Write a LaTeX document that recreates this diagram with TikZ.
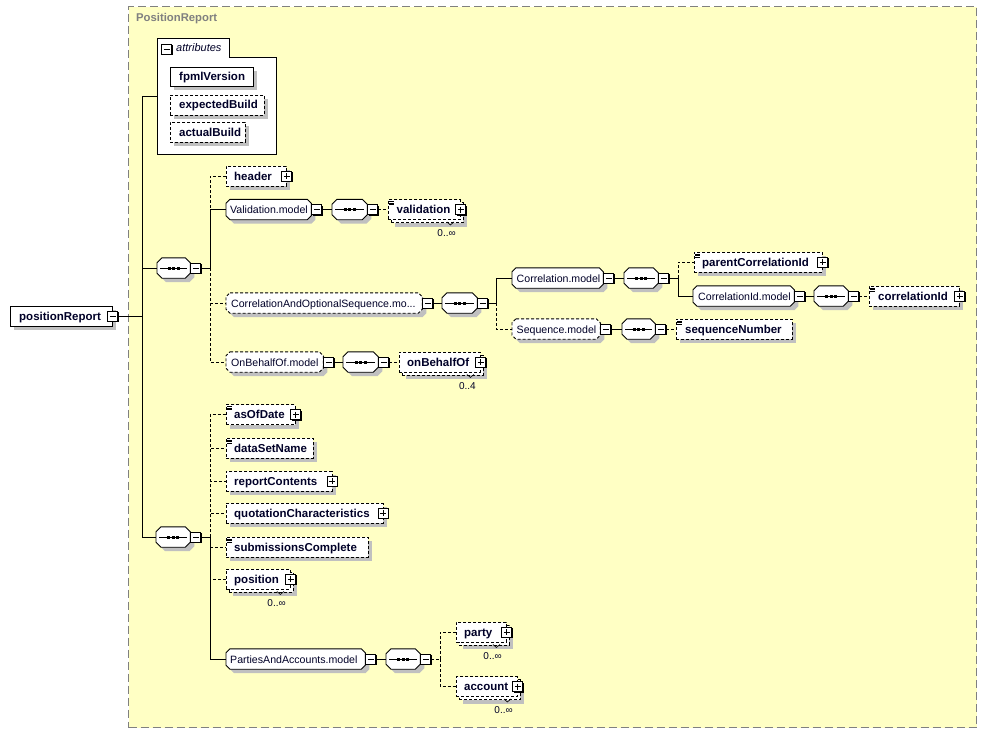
\documentclass[tikz,border=0pt]{standalone}
\usepackage{fontspec}
\setmainfont{Liberation Sans}
\usetikzlibrary{shadows,calc}
\definecolor{bgy}{RGB}{255,255,196}
\definecolor{shd}{RGB}{192,192,192}
\definecolor{frm}{RGB}{128,128,128}
\definecolor{txt}{RGB}{0,0,40}
\tikzset{
  ln/.style={line width=0.9pt, draw=black},
  dsh/.style={dash pattern=on 3pt off 2pt},
  elem/.style={rectangle, draw=black, fill=white, line width=0.9pt, inner sep=0pt, anchor=west, minimum height=20pt,
    general shadow={shadow xshift=4pt,shadow yshift=-4pt,fill=shd}},
  oelem/.style={elem, dsh},
  multi/.style={rectangle, draw=black, fill=white, line width=0.9pt, inner sep=0pt, anchor=west, minimum height=20pt, dsh,
    general shadow={shadow xshift=7pt,shadow yshift=-7pt,fill=shd},
    general shadow={shadow xshift=3pt,shadow yshift=-3pt,fill=white,draw=black,line width=0.9pt,dash pattern=on 3pt off 2pt}},
  gbox/.style={rectangle, inner sep=0pt, anchor=west, minimum height=20pt},
  sq/.style={rectangle, draw=black, fill=white, line width=0.9pt, solid, minimum size=10pt, inner sep=0pt,
    general shadow={shadow xshift=1pt,shadow yshift=-1pt,fill=black}},
  minus/.style={sq, path picture={\draw[line width=0.9pt] ([xshift=2pt]path picture bounding box.west) -- ([xshift=-2pt]path picture bounding box.east);}},
  plus/.style={sq, path picture={\draw[line width=0.9pt] ([xshift=2pt]path picture bounding box.west) -- ([xshift=-2pt]path picture bounding box.east)
      ([yshift=-2pt]path picture bounding box.north) -- ([yshift=2pt]path picture bounding box.south);}},
  lblb/.style={anchor=base west, inner sep=0pt, font=\fontsize{11.5pt}{13pt}\selectfont\bfseries, text=txt},
  lbl/.style={anchor=base west, inner sep=0pt, font=\fontsize{10.6pt}{12pt}\selectfont, text=txt},
  lbli/.style={anchor=base west, inner sep=0pt, font=\fontsize{11pt}{13pt}\selectfont\itshape, text=txt},
  lbls/.style={anchor=base east, inner sep=0pt, font=\fontsize{10pt}{12pt}\selectfont, text=txt},
}
% octagon outline round an empty node: name, chamfer, dx, dy
\newcommand\octp[4]{($(#1.north west)+(#2+#3,#4)$) -- ($(#1.north east)+(-#2+#3,#4)$) -- ($(#1.north east)+(#3,#2+#4)$)
  -- ($(#1.south east)+(#3,-#2+#4)$) -- ($(#1.south east)+(-#2+#3,#4)$) -- ($(#1.south west)+(#2+#3,#4)$)
  -- ($(#1.south west)+(#3,-#2+#4)$) -- ($(#1.north west)+(#3,#2+#4)$) -- cycle}
\newcommand\octo[3]{\fill[shd] \octp{#1}{#2}{4}{4}; \draw[ln,fill=white,#3] \octp{#1}{#2}{0}{0};}
\newcommand\seqdraw[1]{\octo{#1}{5}{}
  \draw[line width=0.9pt] ($(#1.west)+(3,0)$) -- ($(#1.east)+(-3,0)$);
  \foreach \d in {-4.5,0,4.5}{\fill ($(#1.center)+(\d-1.5,-1.5)$) rectangle ++(3,3);}}
\newcommand\simpleicon[1]{\foreach \k in {2.5,4,5.5}{\draw[line width=0.7pt] ($(#1.north west)+(1,\k)$) -- ++(5,0);}}
\newcommand\multlabel[3]{\draw[line width=0.6pt] ($(#1.south east)+(-14,2)$) -- ++(3.5,3) -- ++(3.5,-3);
  \node[lbls] (#2) at ($(#1.south east)+(-5,17)$) {#3};}
\begin{document}
\begin{tikzpicture}[x=1pt,y=-1pt]
\useasboundingbox (0,0) rectangle (988,733);
\fill[white] (0,0) rectangle (988,733);
% frame
\node[draw=frm, fill=bgy, dash pattern=on 8pt off 4pt, line width=1.2pt, minimum width=848pt, minimum height=721pt,
  anchor=north west, inner sep=0pt] (frame) at (128,6) {};
\node[anchor=base west, inner sep=0pt, font=\fontsize{11.3pt}{13pt}\selectfont\bfseries, text=frm] (title) at (136,22) {PositionReport};

% attributes
\node[minimum width=119pt, minimum height=116pt, anchor=north west, inner sep=0pt] (attr) at (157,38) {};
\draw[line width=0.9pt, fill=white] (attr.north west) -- ++(72,0) -- ++(0,19) -| (attr.south east) -- (attr.south west) -- cycle;
\node[minus] (attrM) at (166.5,49) {};
\node[lbli] (attrT) at (176,52) {attributes};
\node[elem, minimum width=83pt, minimum height=19pt] (fpml) at (170,76.5) {};
\node[lblb] (fpmlT) at (179,80.5) {fpmlVersion};
\node[oelem, minimum width=94pt] (exb) at (170,105) {};
\node[lblb] (exbT) at (179,109) {expectedBuild};
\node[oelem, minimum width=75pt] (acb) at (170,132.5) {};
\node[lblb] (acbT) at (179,136.5) {actualBuild};

% root
\node[elem, minimum width=102pt] (root) at (10,316) {};
\node[minus] (rootM) at (root.east) {};
\node[lblb] (rootT) at (19,320) {positionReport};
\coordinate (rj) at (142,316);

% sequence 1
\node[gbox, minimum width=33pt] (s1) at (157,268) {};
\seqdraw{s1}
\node[minus, anchor=west] (s1M) at (s1.east) {};
\coordinate (j1) at (210,268);

\node[oelem, minimum width=60pt] (hdr) at (226,176) {};
\node[plus] (hdrP) at (hdr.east) {};
\node[lblb] (hdrT) at (234,180) {header};

\node[gbox, minimum width=85pt] (valm) at (226,209.5) {};
\octo{valm}{4}{}
\node[minus, anchor=west] (valmM) at (valm.east) {};
\node[lbl] (valmT) at (230,213.5) {Validation.model};
\node[gbox, minimum width=35pt] (vseq) at (332,209.5) {};
\seqdraw{vseq}
\node[minus, anchor=west] (vseqM) at (vseq.east) {};
\node[multi, minimum width=72pt] (valid) at (388,209.5) {};
\node[plus] (validP) at (valid.east) {};
\node[lblb] (validT) at (396.5,213.5) {validation};
\simpleicon{valid}
\multlabel{valid}{validN}{0..∞}

\node[gbox, minimum width=196pt] (cor) at (226,303) {};
\octo{cor}{4}{dsh}
\node[minus, anchor=west] (corM) at (cor.east) {};
\node[lbl] (corT) at (231,307) {CorrelationAndOptionalSequence.mo...};
\node[gbox, minimum width=35pt] (cseq) at (442,303) {};
\seqdraw{cseq}
\node[minus, anchor=west] (cseqM) at (cseq.east) {};
\coordinate (j2) at (496,303);

\node[gbox, minimum width=91pt] (cm) at (512,278) {};
\octo{cm}{4}{}
\node[minus, anchor=west] (cmM) at (cm.east) {};
\node[lbl] (cmT) at (516.5,282) {Correlation.model};
\node[gbox, minimum width=34pt] (cmseq) at (624,278) {};
\seqdraw{cmseq}
\node[minus, anchor=west] (cmseqM) at (cmseq.east) {};
\coordinate (j3) at (678,278);

\node[oelem, minimum width=128pt] (pci) at (694,262) {};
\node[plus] (pciP) at (pci.east) {};
\node[lblb] (pciT) at (702,266) {parentCorrelationId};
\simpleicon{pci}

\node[gbox, minimum width=101pt] (cim) at (693,296) {};
\octo{cim}{4}{}
\node[minus, anchor=west] (cimM) at (cim.east) {};
\node[lbl] (cimT) at (698,300) {CorrelationId.model};
\node[gbox, minimum width=34pt] (ciseq) at (814,296) {};
\seqdraw{ciseq}
\node[minus, anchor=west] (ciseqM) at (ciseq.east) {};
\node[oelem, minimum width=90pt] (cid) at (869,296) {};
\node[plus] (cidP) at (cid.east) {};
\node[lblb] (cidT) at (878,300) {correlationId};
\simpleicon{cid}

\node[gbox, minimum width=88pt] (sqm) at (512,329) {};
\octo{sqm}{4}{dsh}
\node[minus, anchor=west] (sqmM) at (sqm.east) {};
\node[lbl] (sqmT) at (516.5,333) {Sequence.model};
\node[gbox, minimum width=33pt] (sqseq) at (622,329) {};
\seqdraw{sqseq}
\node[minus, anchor=west] (sqseqM) at (sqseq.east) {};
\node[oelem, minimum width=116pt] (sqn) at (676,329) {};
\node[lblb] (sqnT) at (685,333) {sequenceNumber};
\simpleicon{sqn}

\node[gbox, minimum width=97pt] (obm) at (226,362) {};
\octo{obm}{4}{dsh}
\node[minus, anchor=west] (obmM) at (obm.east) {};
\node[lbl] (obmT) at (231,366) {OnBehalfOf.model};
\node[gbox, minimum width=35pt] (oseq) at (343,362) {};
\seqdraw{oseq}
\node[minus, anchor=west] (oseqM) at (oseq.east) {};
\node[multi, minimum width=81pt] (obo) at (399,362) {};
\node[plus] (oboP) at (obo.east) {};
\node[lblb] (oboT) at (407,366) {onBehalfOf};
\multlabel{obo}{oboN}{0..4}

% sequence 2
\node[gbox, minimum width=34pt] (s2) at (156,537) {};
\seqdraw{s2}
\node[minus, anchor=west] (s2M) at (s2.east) {};
\coordinate (j4) at (210,537);

\node[oelem, minimum width=69pt] (aod) at (226,414.5) {};
\node[plus] (aodP) at (aod.east) {};
\node[lblb] (aodT) at (234,418.5) {asOfDate};
\simpleicon{aod}
\node[oelem, minimum width=87pt] (dsn) at (226,448) {};
\node[lblb] (dsnT) at (234,452) {dataSetName};
\simpleicon{dsn}
\node[oelem, minimum width=105.5pt] (rpc) at (226,481) {};
\node[plus] (rpcP) at (rpc.east) {};
\node[lblb] (rpcT) at (234,485) {reportContents};
\node[oelem, minimum width=156.5pt] (qch) at (226,513) {};
\node[plus] (qchP) at (qch.east) {};
\node[lblb] (qchT) at (234,517) {quotationCharacteristics};
\node[oelem, minimum width=142pt] (sbc) at (226,547) {};
\node[lblb] (sbcT) at (234,551) {submissionsComplete};
\simpleicon{sbc}
\node[multi, minimum width=64pt] (pos) at (226,579) {};
\node[plus] (posP) at (pos.east) {};
\node[lblb] (posT) at (234,583) {position};
\multlabel{pos}{posN}{0..∞}

\node[gbox, minimum width=139pt] (pam) at (226,659) {};
\octo{pam}{4}{}
\node[minus, anchor=west] (pamM) at (pam.east) {};
\node[lbl] (pamT) at (230,663) {PartiesAndAccounts.model};
\node[gbox, minimum width=34pt] (pseq) at (386,659) {};
\seqdraw{pseq}
\node[minus, anchor=west] (pseqM) at (pseq.east) {};
\coordinate (j5) at (440,659);
\node[multi, minimum width=50pt] (pty) at (456,632) {};
\node[plus] (ptyP) at (pty.east) {};
\node[lblb] (ptyT) at (464,636) {party};
\multlabel{pty}{ptyN}{0..∞}
\node[multi, minimum width=61pt] (acc) at (456,686.5) {};
\node[plus] (accP) at (acc.east) {};
\node[lblb] (accT) at (464,690.5) {account};
\multlabel{acc}{accN}{0..∞}

% connectors
\draw[ln] (rootM.east) -- (rj);
\draw[ln] (rj) |- (attr.west);
\draw[ln] (rj) |- (s1.west);
\draw[ln] (rj) |- (s2.west);

\draw[ln] (s1M.east) -- (j1);
\draw[ln,dsh] (j1) |- (hdr.west);
\draw[ln,dsh] (j1) |- (cor.west);
\draw[ln,dsh] (j1) |- (obm.west);
\draw[ln] (j1) |- (valm.west);

\draw[ln] (valmM.east) -- (vseq.west);
\draw[ln,dsh] (vseqM.east) -- (valid.west);

\draw[ln] (corM.east) -- (cseq.west);
\draw[ln] (cseqM.east) -- (j2);
\draw[ln,dsh] (j2) |- (sqm.west);
\draw[ln] (j2) |- (cm.west);
\draw[ln] (cmM.east) -- (cmseq.west);
\draw[ln] (cmseqM.east) -- (j3);
\draw[ln,dsh] (j3) |- (pci.west);
\draw[ln] (j3) |- (cim.west);
\draw[ln] (cimM.east) -- (ciseq.west);
\draw[ln,dsh] (ciseqM.east) -- (cid.west);
\draw[ln] (sqmM.east) -- (sqseq.west);
\draw[ln,dsh] (sqseqM.east) -- (sqn.west);

\draw[ln] (obmM.east) -- (oseq.west);
\draw[ln,dsh] (oseqM.east) -- (obo.west);

\draw[ln] (s2M.east) -- (j4);
\draw[ln,dsh] (j4) |- (aod.west);
\draw[ln,dsh] (j4) |- (dsn.west);
\draw[ln,dsh] (j4) |- (rpc.west);
\draw[ln,dsh] (j4) |- (qch.west);
\draw[ln,dsh] (j4) |- (sbc.west);
\draw[ln,dsh] (j4) |- (pos.west);
\draw[ln] (j4) |- (pam.west);

\draw[ln] (pamM.east) -- (pseq.west);
\draw[ln,dsh] (pseqM.east) -- (j5);
\draw[ln,dsh] (j5) |- (pty.west);
\draw[ln,dsh] (j5) |- (acc.west);
\end{tikzpicture}
\end{document}
